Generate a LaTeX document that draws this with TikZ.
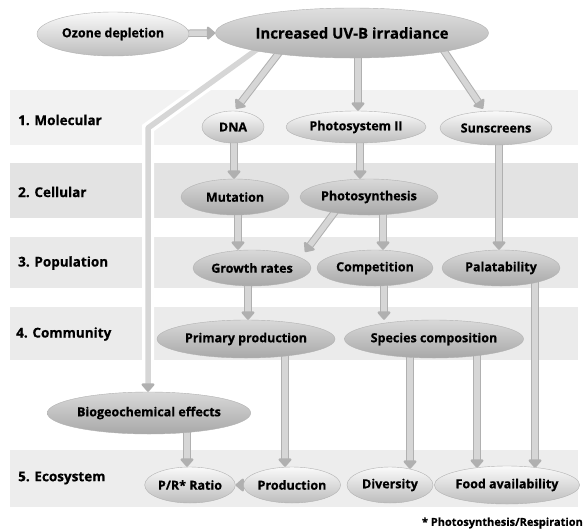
\documentclass[tikz,border=0pt]{standalone}
\usepackage{fontspec}
\setmainfont{Open Sans}[BoldFeatures={FakeBold=0.6}]
\usetikzlibrary{shapes.geometric,arrows.meta,calc}
\pgfdeclarelayer{bands}
\pgfdeclarelayer{arrows}
\pgfsetlayers{bands,arrows,main}
\begin{document}
\begin{tikzpicture}[x=1pt,y=-1pt,
  ell/.style={ellipse, inner sep=0pt, draw=gray!60, line width=0.4pt,
    font=\bfseries\fontsize{12.5}{14}\selectfont},
  lightell/.style={ell, top color=gray!4, bottom color=gray!52},
  darkell/.style={ell, top color=gray!30, bottom color=gray!68},
  lvl/.style={anchor=west, inner sep=0pt, font=\bfseries\fontsize{13.5}{15}\selectfont},
  arr/.style={line width=5.5pt, draw=gray!32, line join=round,
    -{Triangle[round,length=9pt,width=15pt,color=gray!62]},
    preaction={draw=gray!62, line width=7.5pt, arrows=-, shorten >=8pt}},
  haloarr/.style={arr, preaction={draw=white, line width=12pt, arrows=-, shorten >=8pt}},
]
\useasboundingbox (0,0) rectangle (586,531);

% level labels
\node[lvl] (l1) at (18,120) {1. Molecular};
\node[lvl] (l2) at (18,192) {2. Cellular};
\node[lvl] (l3) at (18,263) {3. Population};
\node[lvl] (l4) at (16,334) {4. Community};
\node[lvl] (l5) at (18,478) {5. Ecosystem};

% nodes
\node[lightell, minimum width=152pt, minimum height=44pt] (oz) at (113,34) {Ozone depletion};
\node[ell, top color=gray!25, bottom color=gray!62, minimum width=236pt, minimum height=50pt,
      font=\bfseries\fontsize{15}{17}\selectfont] (uv) at (352,33) {Increased UV-B irradiance};
\node[lightell, minimum width=62pt, minimum height=32pt] (dna) at (233,127) {DNA};
\node[lightell, minimum width=140pt, minimum height=32pt] (ps2) at (356,127) {Photosystem II};
\node[lightell, minimum width=112pt, minimum height=34pt] (sun) at (496,128) {Sunscreens};
\node[darkell, minimum width=108pt, minimum height=36pt] (mut) at (235,197) {Mutation};
\node[darkell, minimum width=138pt, minimum height=36pt] (phs) at (369,197) {Photosynthesis};
\node[darkell, minimum width=118pt, minimum height=36pt] (gro) at (252,268) {Growth rates};
\node[darkell, minimum width=116pt, minimum height=36pt] (com) at (375,268) {Competition};
\node[darkell, minimum width=118pt, minimum height=36pt] (pal) at (501,268) {Palatability};
\node[darkell, minimum width=178pt, minimum height=38pt] (pri) at (246,339) {Primary production};
\node[darkell, minimum width=178pt, minimum height=38pt] (spe) at (434,339) {Species composition};
\node[darkell, minimum width=182pt, minimum height=42pt] (bio) at (149,413) {Biogeochemical effects};
\node[lightell, minimum width=86pt, minimum height=36pt] (pr) at (190,485) {P/R* Ratio};
\node[lightell, minimum width=92pt, minimum height=36pt] (prod) at (292,485) {Production};
\node[lightell, minimum width=86pt, minimum height=36pt] (div) at (390,485) {Diversity};
\node[lightell, minimum width=122pt, minimum height=38pt] (food) at (507,485) {Food availability};
\node[anchor=east, inner sep=0pt, font=\bfseries\fontsize{11}{13}\selectfont] (fn) at (583,523) {* Photosynthesis/Respiration};

\begin{pgfonlayer}{bands}
  \fill[white] (0,0) rectangle (586,531);
  \fill[gray!10] (10,90) rectangle (578,145);
  \fill[gray!22] (10,163) rectangle (578,218);
  \fill[gray!17] (10,237) rectangle (578,288);
  \fill[gray!16] (10,307) rectangle (578,360);
  \fill[gray!14] (10,450) rectangle (578,507);
\end{pgfonlayer}

\begin{pgfonlayer}{arrows}
  \coordinate (bend) at (148,128);
  \draw[arr] (oz.center) -- (uv.west);
  \draw[haloarr] ([xshift=-82pt,yshift=-7pt]uv.center) -- (bend) -- (bend |- bio.north);
  \draw[arr] ([xshift=-67pt,yshift=-12pt]uv.center) -- ([xshift=3pt,yshift=2pt]dna.north);
  \draw[arr] ([xshift=6pt]uv.center) -- ([xshift=6pt]uv.center |- ps2.north);
  \draw[arr] ([xshift=88pt,yshift=-12pt]uv.center) -- ([xshift=-13pt,yshift=2pt]sun.north);
  \draw[arr] ([xshift=1pt]dna.center) -- ([xshift=1pt]dna.center |- mut.north);
  \draw[arr] ([xshift=4pt]ps2.center) -- ([xshift=4pt]ps2.center |- phs.north);
  \draw[arr] ([xshift=3pt]sun.center) -- ([xshift=3pt]sun.center |- pal.north);
  \draw[arr] ([xshift=3pt]mut.center) -- ([xshift=3pt]mut.center |- gro.north);
  \draw[arr] ([xshift=-29pt,yshift=-8pt]phs.center) -- ([xshift=53pt,yshift=16pt]gro.center);
  \draw[arr] ([xshift=14pt]phs.center) -- ([xshift=14pt]phs.center |- com.north);
  \draw[arr] ([xshift=-4pt]gro.center) -- ([xshift=-4pt]gro.center |- pri.north);
  \draw[arr] ([xshift=9pt]com.center) -- ([xshift=9pt]com.center |- spe.north);
  \draw[arr] ([xshift=39pt]pri.center) -- ([xshift=39pt]pri.center |- prod.north);
  \draw[arr] ([xshift=-24pt]spe.center) -- ([xshift=-24pt,yshift=-2pt]spe.center |- div.north);
  \draw[arr] ([xshift=43pt]spe.center) -- ([xshift=43pt,yshift=-2pt]spe.center |- food.north);
  \draw[arr] ([xshift=34pt]pal.center) -- ([xshift=34pt,yshift=-2pt]pal.center |- food.north);
  \draw[arr] ([xshift=38pt]bio.center) -- ([xshift=38pt]bio.center |- pr.north);
  \draw[arr] (prod.center) -- (pr.east);
\end{pgfonlayer}
\end{tikzpicture}
\end{document}
